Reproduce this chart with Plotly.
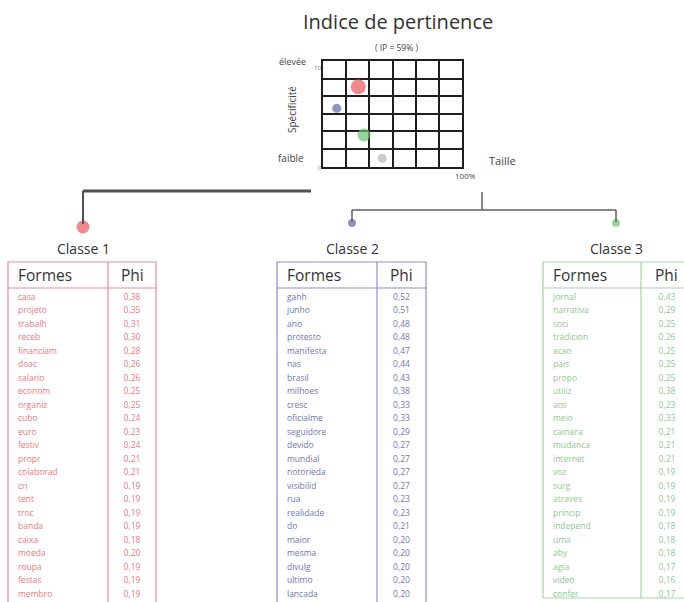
import plotly.graph_objects as go

# ---------------- data ----------------
classes = ["Classe 1", "Classe 2", "Classe 3", "Non classé"]
taille_pct = [25.3, 9.7, 29.4, 42.6]          # x of mini plot (%)
specificite = [7.57, 5.52, 3.0, 0.79]         # y of mini plot (0-10)

formes_c1 = ["casa", "projeto", "trabalh", "receb", "financiam", "doac", "salario", "econom",
             "organiz", "cubo", "euro", "festiv", "propr", "colaborad", "cri", "tent", "troc",
             "banda", "caixa", "moeda", "roupa", "festas", "membro"]
phi_c1 = ["0,38", "0,35", "0,31", "0,30", "0,28", "0,26", "0,26", "0,25", "0,25", "0,24", "0,23",
          "0,24", "0,21", "0,21", "0,19", "0,19", "0,19", "0,19", "0,18", "0,20", "0,19", "0,19", "0,19"]

formes_c2 = ["ganh", "junho", "ano", "protesto", "manifesta", "nas", "brasil", "milhoes", "cresc",
             "oficialme", "seguidore", "devido", "mundial", "notorieda", "visibilid", "rua",
             "realidade", "do", "maior", "mesma", "divulg", "ultimo", "lancada"]
phi_c2 = ["0,52", "0,51", "0,48", "0,48", "0,47", "0,44", "0,43", "0,38", "0,33", "0,33", "0,29",
          "0,27", "0,27", "0,27", "0,27", "0,23", "0,23", "0,21", "0,20", "0,20", "0,20", "0,20", "0,20"]

formes_c3 = ["jornal", "narrativa", "soci", "tradicion", "acao", "pais", "propo", "utiliz", "aos",
             "meio", "camera", "mudanca", "internet", "voz", "surg", "atraves", "princip",
             "independ", "uma", "aby", "agia", "video", "confer"]
phi_c3 = ["0,43", "0,29", "0,25", "0,26", "0,25", "0,25", "0,25", "0,38", "0,23", "0,33", "0,21",
          "0,21", "0,21", "0,19", "0,19", "0,19", "0,19", "0,18", "0,18", "0,18", "0,17", "0,16", "0,17"]

# ---------------- styles ----------------
W, H = 684, 602
FONT = "Open Sans"
dot_colors = ["#e9575c", "#5b68ad", "#6cbf72", "#b3b3b3"]
dot_sizes = [15, 9, 13, 9]
text_colors = ["#ec7880", "#7177b3", "#8fc890"]
border_colors = ["#ec8d93", "#8d8fc3", "#a6d3a6"]

fig = go.Figure()

fig.update_layout(
    width=W, height=H, margin=dict(l=0, r=0, t=0, b=0),
    paper_bgcolor="white", plot_bgcolor="rgba(0,0,0,0)", showlegend=False,
    xaxis=dict(range=[0, W], visible=False, domain=[0, 1], fixedrange=True),
    yaxis=dict(range=[H, 0], visible=False, domain=[0, 1], fixedrange=True),
)

# ---------------- mini plot (Indice de pertinence) ----------------
gx0, gx1, gy0, gy1 = 323.3, 461.7, 61.0, 166.7
fig.update_layout(
    xaxis2=dict(domain=[gx0 / W, gx1 / W], range=[0, 100], anchor="y2",
                tick0=0, dtick=100 / 6, showgrid=True, gridcolor="#1e1e1e", gridwidth=1.8,
                showticklabels=False, zeroline=False, showline=True, linecolor="#1e1e1e",
                linewidth=1.8, mirror=True, ticks="", fixedrange=True),
    yaxis2=dict(domain=[1 - gy1 / H, 1 - gy0 / H], range=[0, 10], anchor="x2",
                tick0=0, dtick=10 / 6, showgrid=True, gridcolor="#1e1e1e", gridwidth=1.8,
                showticklabels=False, zeroline=False, showline=True, linecolor="#1e1e1e",
                linewidth=1.8, mirror=True, ticks="", fixedrange=True),
)
fig.add_trace(go.Scatter(x=taille_pct, y=specificite, mode="markers", xaxis="x2", yaxis="y2",
                         text=classes, hoverinfo="text",
                         marker=dict(size=dot_sizes, color=dot_colors, line=dict(width=0)),
                         cliponaxis=False))

def ann(x, y, text, size, color="#333", **kw):
    fig.add_annotation(x=x, y=y, xref="x", yref="y", text=text, showarrow=False,
                       font=dict(family=FONT, size=size, color=color), **kw)

ann(398, 21, "Indice de pertinence", 20, "#333")
ann(396, 47, "( IP = 59% )", 8.5, "#444")
ann(292, 61, "élevée", 9, "#444")
ann(317, 68, "10", 6, "#666")
ann(292, 110, "Spécificité", 10, "#444", textangle=-90)
ann(291, 158, "faible", 10, "#444")
ann(320, 168, "0", 6, "#777")
ann(465, 175, "100%", 8, "#444")
ann(502, 160, "Taille", 11, "#444")

# ---------------- dendrogram ----------------
def line(x0, y0, x1, y1, w, c="#555"):
    fig.add_shape(type="line", x0=x0, y0=y0, x1=x1, y1=y1, xref="x", yref="y",
                  line=dict(color=c, width=w))

line(83, 191, 311, 191, 3, "#505050")
line(83, 191, 83, 224, 2, "#505050")
line(482, 192, 482, 210, 1.5, "#606060")
line(352, 210, 616, 210, 1.5, "#606060")
line(352, 210, 352, 222, 1.5, "#606060")
line(616, 210, 616, 222, 1.5, "#606060")

dend_x = [83, 352, 616]
dend_y = [227, 223, 223]
fig.add_trace(go.Scatter(x=dend_x, y=dend_y, mode="markers", xaxis="x", yaxis="y",
                         text=classes[:3], hoverinfo="text",
                         marker=dict(size=[13, 8, 8], color=dot_colors[:3], line=dict(width=0))))
for cx, name in zip(dend_x, classes[:3]):
    ann(cx, 248, name, 14, "#333")

# ---------------- tables ----------------
tables = [
    (formes_c1, phi_c1, 8, 108, 156),
    (formes_c2, phi_c2, 277, 377, 426),
    (formes_c3, phi_c3, 543, 641, 700),
]
top, head_bot, bottom = 262, 288, [604, 604, 598]
row0, step = 297.5, 13.5

for k, (formes, phis, xl, xd, xr) in enumerate(tables):
    bc = border_colors[k]
    fig.add_shape(type="rect", x0=xl, y0=top, x1=xr, y1=bottom[k], xref="x", yref="y",
                  line=dict(color=bc, width=1.2))
    line(xl, head_bot, xr, head_bot, 1.2, bc)
    line(xd, top, xd, bottom[k], 1.2, bc)
    ann(xl + 8, 275, "Formes", 15.5, "#333", xanchor="left")
    ann((xd + xr) / 2 if k < 2 else 666, 275, "Phi", 15.5, "#333")
    ys = [row0 + i * step for i in range(len(formes))]
    fig.add_trace(go.Scatter(x=[xl + 10] * len(formes), y=ys, text=formes, mode="text",
                             textposition="middle right", xaxis="x", yaxis="y",
                             hoverinfo="skip", cliponaxis=False,
                             textfont=dict(family=FONT, size=8.5, color=text_colors[k])))
    px = (xd + xr) / 2 if k < 2 else 667
    fig.add_trace(go.Scatter(x=[px] * len(phis), y=ys, text=phis, mode="text",
                             textposition="middle center", xaxis="x", yaxis="y",
                             hoverinfo="skip", cliponaxis=False,
                             textfont=dict(family=FONT, size=8.5, color=text_colors[k])))

fig.write_html("out.html", config={"displayModeBar": False},
               post_script="document.body.style.margin='0';document.body.style.overflow='hidden';")
